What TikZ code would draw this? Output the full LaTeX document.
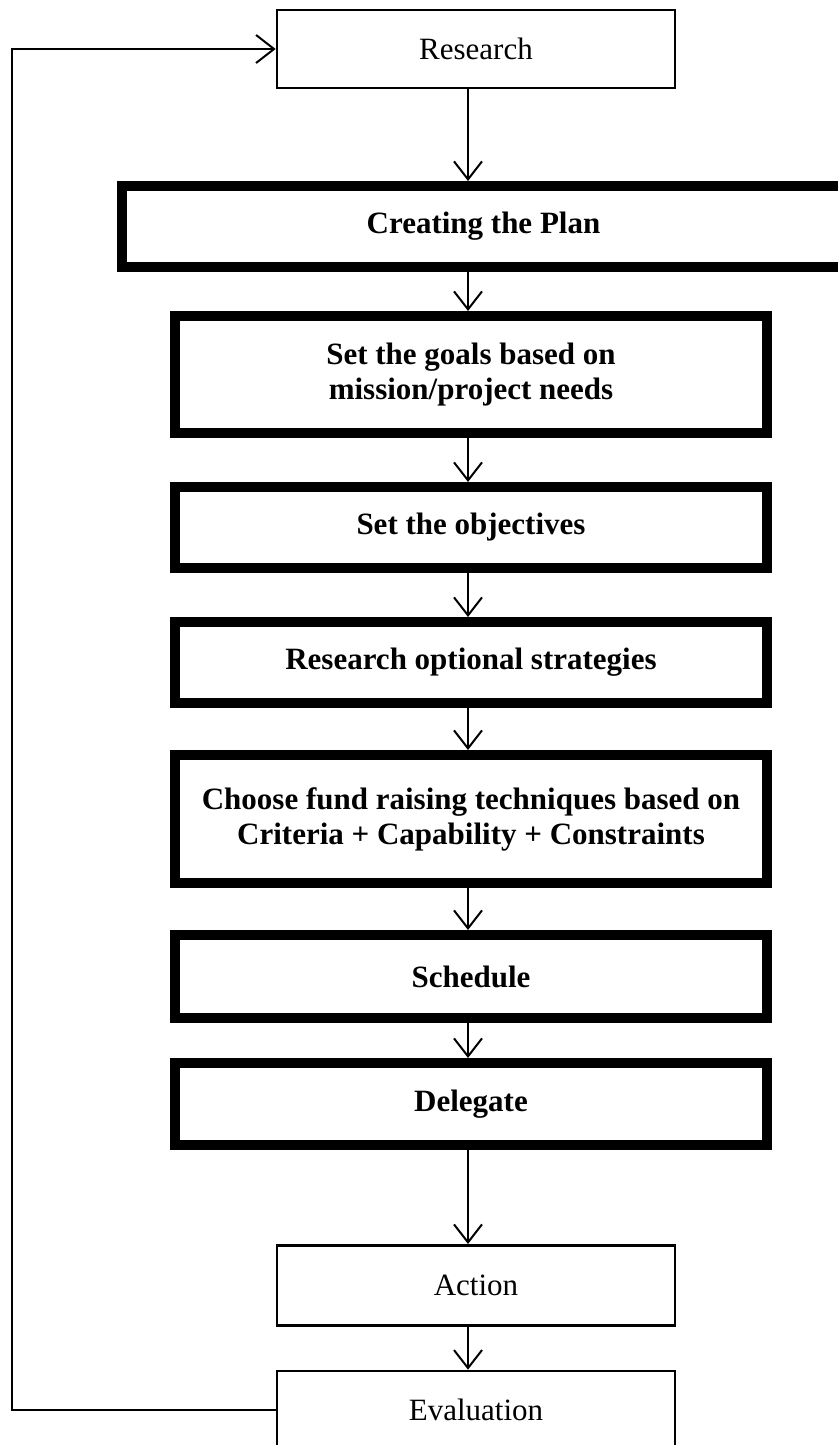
\documentclass[tikz,border=0pt]{standalone}
\usepackage{fontspec}
\setmainfont{Liberation Serif}
\usetikzlibrary{arrows.meta}
\begin{document}
\begin{tikzpicture}[x=0.5pt,y=-0.5pt,
  plainbox/.style={draw=black, fill=white, line width=1.3pt, inner sep=0pt,
    minimum width=199pt, minimum height=39pt,
    font=\fontsize{15.5}{17.5}\selectfont},
  boldbox/.style={draw=black, fill=white, line width=5pt, inner sep=0pt,
    minimum width=296pt, align=center,
    font=\fontsize{15.5}{17.5}\selectfont\bfseries},
  flow/.style={line width=1pt, -{Straight Barb[length=9pt,width=14pt,line width=1pt]}}]
\useasboundingbox (0,0) rectangle (838,1445);
\clip (0,0) rectangle (838,1445);

% stages of the planning cycle
\node[plainbox] (research) at (476,49) {Research};
\node[boldbox, minimum width=361.5pt, minimum height=40.5pt] (plan) at (483.5,226.5) {Creating the Plan};
\node[boldbox, minimum height=58.5pt] (goals) at (471,374.5) {Set the goals based on\\mission/project needs};
\node[boldbox, minimum height=40.5pt] (objectives) at (471,527.5) {Set the objectives};
\node[boldbox, minimum height=40.5pt] (strategies) at (471,662.5) {Research optional strategies};
\node[boldbox, minimum height=64pt] (choose) at (471,819) {Choose fund raising techniques based on\\Criteria + Capability + Constraints};
\node[boldbox, minimum height=41.5pt] (schedule) at (471,976.5) {Schedule};
\node[boldbox, minimum height=41pt] (delegate) at (471,1104) {Delegate};
\node[plainbox, minimum height=40.2pt] (action) at (476,1285.5) {Action};
\node[plainbox] (evaluation) at (476,1410) {Evaluation};

% downward flow
\coordinate (ax) at (468,0);
\foreach \a/\b in {research/plan, plan/goals, goals/objectives, objectives/strategies,
                   strategies/choose, choose/schedule, schedule/delegate,
                   delegate/action, action/evaluation}
  \draw[flow] (\a.south -| ax) -- (\b.north -| ax);

% feedback loop from evaluation back to research
\coordinate (lx) at (12,0);
\draw[flow] (evaluation.west) -- (evaluation.west -| lx) |- (research.west);
\end{tikzpicture}
\end{document}
